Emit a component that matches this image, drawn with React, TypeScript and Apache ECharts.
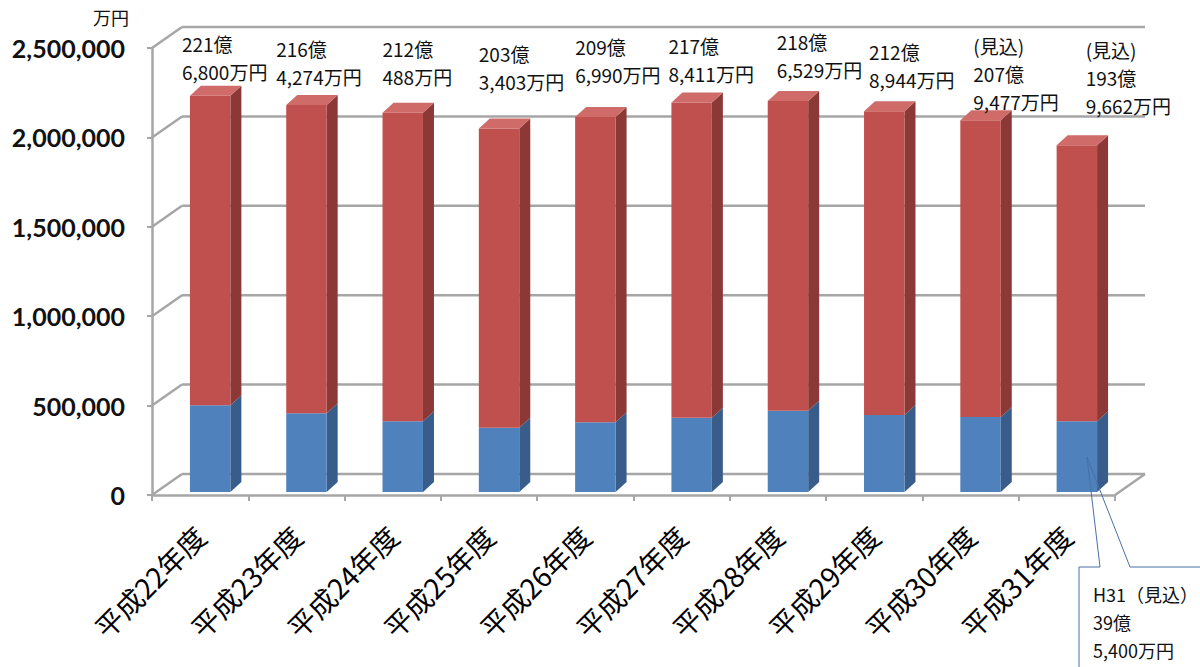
import React, { useEffect, useRef } from "react";
import * as echarts from "echarts";

const categories = ["平成22年度", "平成23年度", "平成24年度", "平成25年度", "平成26年度", "平成27年度", "平成28年度", "平成29年度", "平成30年度", "平成31年度"];
const totals = [2216800, 2164274, 2120488, 2033403, 2096990, 2178411, 2186529, 2128944, 2079477, 1939662];
const lowerValues = [485000, 440000, 395000, 360000, 390000, 415000, 455000, 430000, 420000, 395400];
const estimated = [false, false, false, false, false, false, false, false, true, true];
const yTickValues = [0, 500000, 1000000, 1500000, 2000000, 2500000];
const calloutLines = ["H31（見込）", "39億", "5,400万円"];

// layout only (pixel nudges for the hand-placed text boxes)
const labelDx = [-8, -10, 0, 0, 0, -3, 9, 5, 13, 29];
const labelTop = [29, 34, 34, 39, 32, 31, 27, 37, 31, 35];

const DX = 11, DY = -10; // bar depth
const WX = 30, WY = -21; // wall depth
const SHIFT_X = 10, SHIFT_Y = -3;

function fmtTotal(t: number, est: boolean): string {
  const oku = Math.floor(t / 10000);
  const man = t % 10000;
  const lines = [`${oku}億`, `${man.toLocaleString("en-US")}万円`];
  if (est) lines.unshift("(見込)");
  return lines.join("\n");
}

function barItem(params: any, api: any, colors: { front: string; side: string; top: string }, withTop: boolean, withLabel: boolean) {
  const i = api.value(0);
  const lo = api.value(1);
  const hi = api.value(2);
  const pLo = api.coord([i, lo]);
  const pHi = api.coord([i, hi]);
  const bw = api.size([1, 0])[0] * 0.42;
  const xl = pLo[0] + SHIFT_X - bw / 2;
  const xr = xl + bw;
  const yb = pLo[1] + SHIFT_Y;
  const yt = pHi[1] + SHIFT_Y;
  const children: any[] = [
    {
      type: "polygon",
      shape: { points: [[xr, yt], [xr + DX, yt + DY], [xr + DX, yb + DY], [xr, yb]] },
      style: { fill: colors.side },
    },
    {
      type: "rect",
      shape: { x: xl, y: yt, width: bw, height: yb - yt },
      style: { fill: colors.front },
    },
  ];
  if (withTop) {
    children.push({
      type: "polygon",
      shape: { points: [[xl, yt], [xl + DX, yt + DY], [xr + DX, yt + DY], [xr, yt]] },
      style: { fill: colors.top },
    });
  }
  if (withLabel) {
    children.push({
      type: "text",
      x: xl + labelDx[i],
      y: labelTop[i],
      style: {
        text: fmtTotal(totals[i], estimated[i]),
        fill: "#111",
        font: '19px "Noto Sans CJK JP"',
        lineHeight: 28,
        verticalAlign: "top",
        align: "left",
      },
    });
  }
  return { type: "group", children };
}

export default function App() {
  const ref = useRef<HTMLDivElement>(null);
  useEffect(() => {
    document.body.style.margin = "0";
    const chart = echarts.init(ref.current!, undefined, { renderer: "svg" });
    const gray = "#a6a6a6";
    const option: any = {
      animation: false,
      backgroundColor: "#fff",
      grid: { left: 152, right: 85, top: 48, bottom: 172 },
      xAxis: {
        type: "category",
        data: categories,
        axisLine: { lineStyle: { color: gray, width: 2.5 } },
        axisTick: { show: true, interval: 0, length: 6, lineStyle: { color: gray, width: 2 } },
        axisLabel: {
          interval: 0,
          rotate: 45,
          margin: 36,
          fontSize: 28,
          color: "#000",
          fontFamily: '"Noto Sans CJK JP"',
        },
      },
      yAxis: {
        type: "value",
        min: 0,
        max: 2500000,
        interval: 500000,
        splitLine: { show: false },
        axisLine: { show: true, lineStyle: { color: gray, width: 2.5 } },
        axisTick: { show: true, length: 5, lineStyle: { color: gray, width: 2 } },
        axisLabel: {
          margin: 27,
          fontSize: 25,
          fontWeight: "bold",
          color: "#111",
          fontFamily: "Lato",
          formatter: (v: number) => v.toLocaleString("en-US"),
        },
      },
      graphic: [
        {
          type: "text",
          left: 93,
          top: 8,
          style: { text: "万円", font: '18px "Noto Sans CJK JP"', fill: "#111" },
        },
        {
          type: "polyline",
          shape: {
            points: [[1079, 667], [1079, 567], [1100, 567], [1087, 457], [1130, 567], [1200, 567]],
          },
          style: { stroke: "#4a6fa5", lineWidth: 1, fill: null },
          z: 100,
        },
        {
          type: "text",
          left: 1093,
          top: 580,
          z: 101,
          style: {
            text: calloutLines.join("\n"),
            font: '18px "Noto Sans CJK JP"',
            lineHeight: 28,
            fill: "#111",
          },
        },
      ],
      series: [
        {
          type: "custom",
          name: "walls",
          z: 1,
          silent: true,
          data: yTickValues.map((v) => [0, v]),
          encode: { x: 0, y: 1 },
          renderItem: (params: any, api: any) => {
            const v = api.value(1);
            const p = api.coord([0, v]);
            const x0 = params.coordSys.x;
            const w = params.coordSys.width;
            const y = p[1];
            const st = { stroke: gray, lineWidth: 2.5 };
            const children: any[] = [
              { type: "line", shape: { x1: x0, y1: y, x2: x0 + WX, y2: y + WY }, style: st },
              { type: "line", shape: { x1: x0 + WX, y1: y + WY, x2: x0 + w + WX, y2: y + WY }, style: st },
            ];
            if (v === 0) {
              children.push({ type: "line", shape: { x1: x0 + w, y1: y, x2: x0 + w + WX, y2: y + WY }, style: st });
            }
            return { type: "group", children };
          },
        },
        {
          type: "custom",
          name: "lower",
          z: 5,
          data: lowerValues.map((v, i) => [i, 0, v]),
          encode: { x: 0, y: [1, 2] },
          renderItem: (params: any, api: any) =>
            barItem(params, api, { front: "#4f81bd", side: "#385d8a", top: "#6f9ad0" }, false, false),
        },
        {
          type: "custom",
          name: "upper",
          z: 5,
          data: totals.map((t, i) => [i, lowerValues[i], t]),
          encode: { x: 0, y: [1, 2] },
          renderItem: (params: any, api: any) =>
            barItem(params, api, { front: "#c0504d", side: "#8c3836", top: "#cf6b68" }, true, true),
        },
      ],
    };
    chart.setOption(option);
    return () => chart.dispose();
  }, []);
  return <div ref={ref} style={{ width: 1200, height: 667 }} />;
}
